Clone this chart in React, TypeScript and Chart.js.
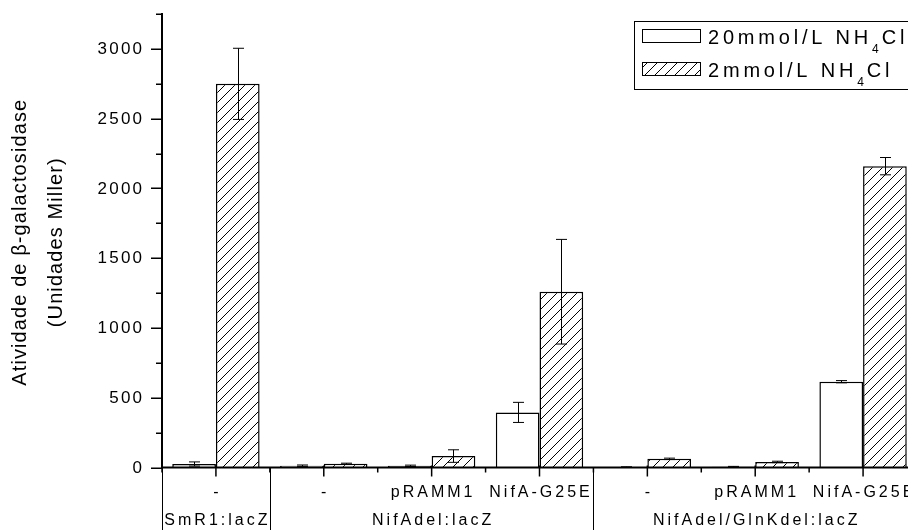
import { useEffect, useRef } from 'react';
import { Chart, registerables } from 'chart.js';

Chart.register(...registerables);

// ---------- data ----------
const categories = ['-', '-', 'pRAMM1', 'NifA-G25E', '-', 'pRAMM1', 'NifA-G25E'];
const groupLabels = ['SmR1:lacZ', 'NifAdel:lacZ', 'NifAdel/GlnKdel:lacZ'];
const groupFirst = [0, 1, 4];
const groupLast = [0, 3, 6];
const seriesNames = ['20mmol/L NH4Cl', '2mmol/L NH4Cl'];
const highValues = [25, 13, 12, 395, 3, 5, 615];
const highErrors = [15, 5, 5, 72, 2, 3, 8];
const lowValues = [2750, 27, 82, 1260, 62, 40, 2160];
const lowErrors = [255, 4, 45, 375, 5, 5, 62];
const yTickValues = [0, 500, 1000, 1500, 2000, 2500, 3000];
const yMinorStep = 250;
const yMax = 3250;
const yTitle = ['Atividade de β-galactosidase', '(Unidades Miller)'];

const FONT = '"Liberation Sans", Arial, Helvetica, sans-serif';

function makeHatch(): CanvasPattern | string {
  const s = 10;
  const c = document.createElement('canvas');
  c.width = s;
  c.height = s;
  const g = c.getContext('2d');
  if (!g) return '#fff';
  g.fillStyle = '#fff';
  g.fillRect(0, 0, s, s);
  g.strokeStyle = '#000';
  g.lineWidth = 1;
  g.beginPath();
  g.moveTo(-1, s + 1);
  g.lineTo(s + 1, -1);
  g.moveTo(-1, 1);
  g.lineTo(1, -1);
  g.moveTo(s - 1, s + 1);
  g.lineTo(s + 1, s - 1);
  g.stroke();
  const p = g.createPattern(c, 'repeat');
  return p || '#fff';
}

function spacedWidth(ctx: CanvasRenderingContext2D, text: string, ls: number) {
  const chars = Array.from(text);
  let w = 0;
  for (const ch of chars) w += ctx.measureText(ch).width;
  return w + ls * Math.max(0, chars.length - 1);
}

function drawSpaced(
  ctx: CanvasRenderingContext2D,
  text: string,
  x: number,
  y: number,
  align: 'left' | 'center' | 'right',
  ls: number
) {
  const w = spacedWidth(ctx, text, ls);
  let cx = align === 'center' ? x - w / 2 : align === 'right' ? x - w : x;
  ctx.textAlign = 'left';
  for (const ch of Array.from(text)) {
    ctx.fillText(ch, cx, y);
    cx += ctx.measureText(ch).width + ls;
  }
  return cx;
}

const errorBarsPlugin = {
  id: 'errorBars',
  afterDatasetsDraw(chart: any) {
    const ctx: CanvasRenderingContext2D = chart.ctx;
    const y = chart.scales.y;
    const errs = [highErrors, lowErrors];
    const vals = [highValues, lowValues];
    ctx.save();
    ctx.strokeStyle = '#000';
    ctx.lineWidth = 1;
    chart.data.datasets.forEach((_ds: any, di: number) => {
      const meta = chart.getDatasetMeta(di);
      meta.data.forEach((el: any, i: number) => {
        const v = vals[di][i];
        const e = errs[di][i];
        const x = Math.round(el.x) + 0.5;
        const yt = y.getPixelForValue(v + e);
        const yb = y.getPixelForValue(Math.max(0, v - e));
        ctx.beginPath();
        ctx.moveTo(x, yt);
        ctx.lineTo(x, yb);
        ctx.moveTo(x - 5.5, yt);
        ctx.lineTo(x + 5.5, yt);
        ctx.moveTo(x - 5.5, yb);
        ctx.lineTo(x + 5.5, yb);
        ctx.stroke();
      });
    });
    ctx.restore();
  },
};

function makeAxesPlugin(hatch: CanvasPattern | string) {
  return {
    id: 'originAxes',
    afterDraw(chart: any) {
      const ctx: CanvasRenderingContext2D = chart.ctx;
      const { left, right, top, bottom } = chart.chartArea;
      const xs = chart.scales.x;
      const ys = chart.scales.y;
      const H = chart.height;
      const catW = (right - left) / categories.length;
      ctx.save();
      ctx.fillStyle = '#000';
      ctx.strokeStyle = '#000';

      // y axis line
      ctx.lineWidth = 2;
      ctx.beginPath();
      ctx.moveTo(left, top - 1);
      ctx.lineTo(left, bottom);
      ctx.stroke();

      // y ticks
      ctx.lineWidth = 1.5;
      for (let v = 0; v <= yMax; v += yMinorStep) {
        const py = Math.round(ys.getPixelForValue(v)) + 0.25;
        const major = yTickValues.includes(v);
        ctx.beginPath();
        ctx.moveTo(left - (major ? 11 : 6), py);
        ctx.lineTo(left, py);
        ctx.stroke();
      }

      // y tick labels
      ctx.font = `17px ${FONT}`;
      ctx.textBaseline = 'middle';
      for (const v of yTickValues) {
        drawSpaced(ctx, String(v), left - 20, ys.getPixelForValue(v) + 0.5, 'right', 2.2);
      }

      // x axis line
      ctx.lineWidth = 2;
      ctx.beginPath();
      ctx.moveTo(left - 1, bottom);
      ctx.lineTo(right + 2, bottom);
      ctx.stroke();

      // x ticks
      ctx.lineWidth = 1.5;
      categories.forEach((_c, i) => {
        const cx = xs.getPixelForValue(i);
        ctx.beginPath();
        ctx.moveTo(cx, bottom - 2);
        ctx.lineTo(cx, bottom + 9);
        ctx.stroke();
        const bx = cx + catW / 2;
        ctx.beginPath();
        ctx.moveTo(bx, bottom);
        ctx.lineTo(bx, bottom + 5);
        ctx.stroke();
      });
      ctx.beginPath();
      ctx.moveTo(left, bottom);
      ctx.lineTo(left, bottom + 5);
      ctx.stroke();

      // group separators
      ctx.lineWidth = 1;
      groupFirst.forEach((gi, k) => {
        const sx = Math.round(xs.getPixelForValue(gi) - catW / 2) + 0.5;
        ctx.beginPath();
        ctx.moveTo(sx, bottom);
        ctx.lineTo(sx, H);
        ctx.stroke();
        const ex = Math.round(xs.getPixelForValue(groupLast[k]) + catW / 2) + 0.5;
        ctx.beginPath();
        ctx.moveTo(ex, bottom);
        ctx.lineTo(ex, H);
        ctx.stroke();
      });

      // category labels
      ctx.font = `16px ${FONT}`;
      ctx.textBaseline = 'middle';
      categories.forEach((c, i) => {
        drawSpaced(ctx, c, xs.getPixelForValue(i), bottom + 25, 'center', 3);
      });
      // group labels
      groupLabels.forEach((g, k) => {
        const gx = (xs.getPixelForValue(groupFirst[k]) + xs.getPixelForValue(groupLast[k])) / 2;
        drawSpaced(ctx, g, gx, bottom + 53, 'center', 3);
      });

      // y title
      ctx.font = `20px ${FONT}`;
      ctx.textBaseline = 'alphabetic';
      const cy = (top + bottom) / 2 + 2;
      const titleX = [26, 62];
      yTitle.forEach((t, k) => {
        ctx.save();
        ctx.translate(titleX[k], cy);
        ctx.rotate(-Math.PI / 2);
        drawSpaced(ctx, t, 0, 0, 'center', 1.1);
        ctx.restore();
      });

      // legend
      const lx = 634.5;
      const ly = 21.5;
      ctx.lineWidth = 1;
      ctx.strokeRect(lx, ly, 320, 68);
      const rowsBase = [44, 77];
      const fills = ['#fff', hatch];
      seriesNames.forEach((name, k) => {
        const sy = rowsBase[k] - 15;
        ctx.fillStyle = fills[k] as any;
        ctx.fillRect(642, sy, 58, 13);
        ctx.strokeStyle = '#000';
        ctx.strokeRect(642.5, sy + 0.5, 58, 13);
        ctx.fillStyle = '#000';
        ctx.textBaseline = 'alphabetic';
        const m = name.match(/^(.*NH)(4)(Cl)$/);
        const parts = m ? [m[1], m[2], m[3]] : [name, '', ''];
        ctx.font = `20px ${FONT}`;
        let px = drawSpaced(ctx, parts[0], 708, rowsBase[k], 'left', 3.8);
        if (parts[1]) {
          ctx.font = `12px ${FONT}`;
          px = drawSpaced(ctx, parts[1], px, rowsBase[k] + 9, 'left', 0) + 3;
          ctx.font = `20px ${FONT}`;
          drawSpaced(ctx, parts[2], px, rowsBase[k], 'left', 3.8);
        }
      });

      ctx.restore();
    },
  };
}

export default function App() {
  const ref = useRef<HTMLCanvasElement | null>(null);

  useEffect(() => {
    const canvas = ref.current;
    if (!canvas) return;
    const hatch = makeHatch();
    const chart = new Chart(canvas, {
      type: 'bar',
      data: {
        labels: categories,
        datasets: [
          {
            label: seriesNames[0],
            data: highValues,
            backgroundColor: '#ffffff',
            borderColor: '#000000',
            borderWidth: 1.5,
            categoryPercentage: 0.81,
            barPercentage: 1.0,
          },
          {
            label: seriesNames[1],
            data: lowValues,
            backgroundColor: hatch as any,
            borderColor: '#000000',
            borderWidth: 1.5,
            categoryPercentage: 0.81,
            barPercentage: 1.0,
          },
        ],
      },
      options: {
        responsive: false,
        animation: false,
        devicePixelRatio: 1,
        layout: { padding: { left: 162, right: 13, top: 14.1, bottom: 62.5 } },
        plugins: {
          legend: { display: false },
          tooltip: { enabled: false },
          title: { display: false },
        },
        scales: {
          x: { display: false, type: 'category' },
          y: { display: false, min: 0, max: yMax },
        },
      },
      plugins: [errorBarsPlugin, makeAxesPlugin(hatch)],
    });
    return () => chart.destroy();
  }, []);

  return (
    <div
      style={{
        position: 'fixed',
        left: 0,
        top: 0,
        width: 908,
        height: 530,
        overflow: 'hidden',
        background: '#fff',
      }}
    >
      <canvas ref={ref} width={930} height={530} style={{ width: 930, height: 530, display: 'block' }} />
    </div>
  );
}
